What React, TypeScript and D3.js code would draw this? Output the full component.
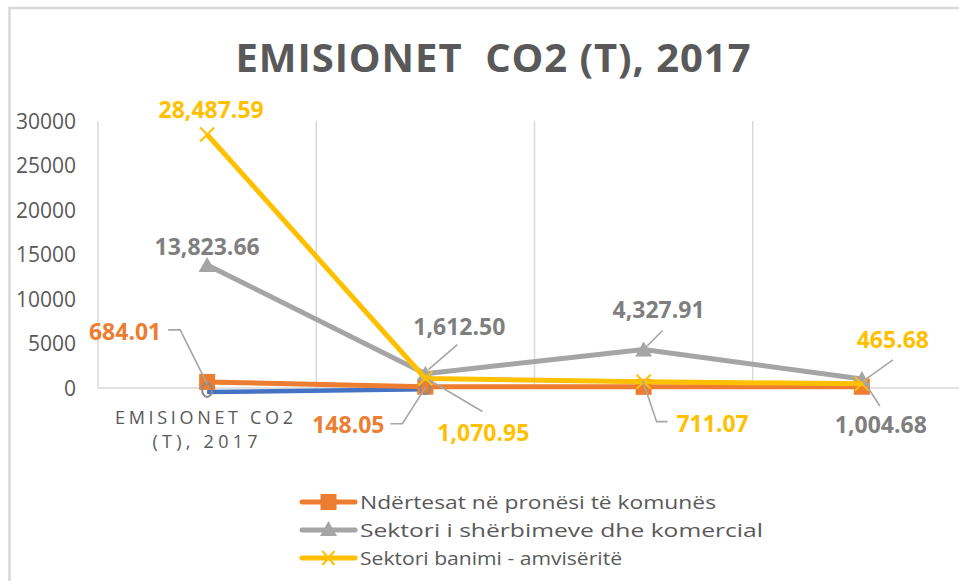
import React from "react";
import * as d3 from "d3";

const categories = ["EMISIONET CO2 (T), 2017", "c2", "c3", "c4"];
const seriesNames = [
  "Ndërtesat në pronësi të komunës",
  "Sektori i shërbimeve dhe komercial",
  "Sektori banimi - amvisëritë",
];
const blueValues = [-450, -150];
const orangeValues = [684.01, 148.05, 130, 140];
const grayValues = [13823.66, 1612.5, 4327.91, 1004.68];
const yellowValues = [28487.59, 1070.95, 711.07, 465.68];
const yTicks = [0, 5000, 10000, 15000, 20000, 25000, 30000];
const titleText = "EMISIONET  CO2 (T), 2017";

const ORANGE = "#ED7D31";
const GRAY = "#A5A5A5";
const YELLOW = "#FFC000";
const BLUE = "#4472C4";
const TEXT = "#595959";
const GRID = "#D9D9D9";
const LEADER = "#A6A6A6";

const fmt = d3.format(",.2f");

// label layout (offsets relative to the data point), not data
type Lay = { dx: number; dy: number; leader?: [number, number][] } | null;
const orangeLayout: Lay[] = [
  { dx: -82, dy: -42, leader: [[0, 2], [-27, -52], [-39, -52]] },
  { dx: -77, dy: 46, leader: [[0, 1], [-23, 37], [-35, 37]] },
  null,
  null,
];
const grayLayout: Lay[] = [
  { dx: 0, dy: -10 },
  { dx: 34, dy: -39, leader: [[3, -4], [32, -29]] },
  { dx: 15, dy: -31, leader: [[1, -1], [19, -19]] },
  { dx: 19, dy: 54, leader: [[1, 1], [18, 27]] },
];
const yellowLayout: Lay[] = [
  { dx: 4, dy: -16 },
  { dx: 58, dy: 63, leader: [[3, 1], [57, 33]] },
  { dx: 69, dy: 50, leader: [[-1, -1], [13, 40], [24, 40]] },
  { dx: 31, dy: -36, leader: [[3, -4], [31, -24]] },
];

export default function App() {
  const W = 959;
  const H = 581;
  const x = d3.scaleBand<string>().domain(categories).range([98, 971]).padding(0);
  const y = d3.scaleLinear().domain([0, 30000]).range([388, 121]);
  const cx = (i: number) => (x(categories[i]) as number) + x.bandwidth() / 2;

  const line = d3
    .line<number>()
    .x((_, i) => cx(i))
    .y((v) => y(v));

  const triangle = (px: number, py: number) =>
    `M${px},${py - 8} L${px + 8.5},${py + 7} L${px - 8.5},${py + 7} Z`;

  const renderLabels = (vals: number[], lay: Lay[], color: string, key: string) =>
    vals.map((v, i) => {
      const l = lay[i];
      if (!l) return null;
      const px = cx(i);
      const py = y(v);
      return (
        <g key={key + i}>
          {l.leader && (
            <polyline
              points={l.leader.map(([a, b]) => `${px + a},${py + b}`).join(" ")}
              fill="none"
              stroke={LEADER}
              strokeWidth={1.6}
            />
          )}
          <text
            x={px + l.dx}
            y={py + l.dy}
            textAnchor="middle"
            fontFamily="'Open Sans', sans-serif"
            fontWeight={700}
            fontSize={23}
            fill={color}
          >
            {fmt(v)}
          </text>
        </g>
      );
    });

  const legendRows = [
    { name: seriesNames[0], color: ORANGE, marker: "square", len: 356 },
    { name: seriesNames[1], color: GRAY, marker: "triangle", len: 403 },
    { name: seriesNames[2], color: YELLOW, marker: "x", len: 262 },
  ];

  return (
    <svg
      width={W}
      height={H}
      style={{ position: "absolute", left: 0, top: 0, background: "#fff" }}
    >
      <rect x={0} y={0} width={W} height={H} fill="#fff" />
      <rect x={9.5} y={8} width={1000} height={700} fill="none" stroke={GRID} strokeWidth={2.5} />

      <text
        x={493}
        y={72}
        textAnchor="middle"
        fontFamily="'Open Sans', sans-serif"
        fontWeight={700}
        fontSize={40}
        fill={TEXT}
        textLength={515}
        lengthAdjust="spacing"
        style={{ whiteSpace: "pre" }}
      >
        {titleText}
      </text>

      {/* vertical gridlines at category boundaries */}
      {categories.map((c) => (
        <line
          key={"g" + c}
          x1={x(c) as number}
          x2={x(c) as number}
          y1={y(30000)}
          y2={y(0)}
          stroke={GRID}
          strokeWidth={1.5}
        />
      ))}
      <line x1={98} x2={971} y1={y(0)} y2={y(0)} stroke={GRID} strokeWidth={1.5} />

      {yTicks.map((t) => (
        <text
          key={"t" + t}
          x={76}
          y={y(t) + 7.5}
          textAnchor="end"
          fontFamily="'Open Sans', sans-serif"
          fontSize={21}
          fill={TEXT}
        >
          {t}
        </text>
      ))}

      <text
        x={204}
        y={424}
        textAnchor="middle"
        fontFamily="'Open Sans', sans-serif"
        fontSize={18}
        fill={TEXT}
        textLength={178}
        lengthAdjust="spacing"
      >
        EMISIONET CO2
      </text>
      <text
        x={205}
        y={448}
        textAnchor="middle"
        fontFamily="'Open Sans', sans-serif"
        fontSize={18}
        fill={TEXT}
        textLength={105}
        lengthAdjust="spacing"
      >
        (T), 2017
      </text>

      {/* blue series */}
      <path d={line(blueValues) || ""} fill="none" stroke={BLUE} strokeWidth={4.5} />

      {/* orange series */}
      <path d={line(orangeValues) || ""} fill="none" stroke={ORANGE} strokeWidth={5} strokeLinejoin="round" />
      {orangeValues.map((v, i) => (
        <rect key={"o" + i} x={cx(i) - 8} y={y(v) - 8} width={16} height={16} fill={ORANGE} />
      ))}

      {blueValues.map((v, i) => (
        <ellipse key={"b" + i} cx={cx(i)} cy={y(v) - 2} rx={5} ry={7} fill="none" stroke="#8A8A8A" strokeWidth={2} />
      ))}

      {/* gray series */}
      <path d={line(grayValues) || ""} fill="none" stroke={GRAY} strokeWidth={5} strokeLinejoin="round" />
      {grayValues.map((v, i) => (
        <path key={"gr" + i} d={triangle(cx(i), y(v))} fill={GRAY} />
      ))}

      {/* yellow series */}
      <path d={line(yellowValues) || ""} fill="none" stroke={YELLOW} strokeWidth={5} strokeLinejoin="round" />
      {yellowValues.map((v, i) => {
        const px = cx(i);
        const py = y(v);
        return (
          <path
            key={"y" + i}
            d={`M${px - 7},${py - 7} L${px + 7},${py + 7} M${px + 7},${py - 7} L${px - 7},${py + 7}`}
            stroke={YELLOW}
            strokeWidth={2}
          />
        );
      })}

      {renderLabels(orangeValues, orangeLayout, ORANGE, "ol")}
      {renderLabels(grayValues, grayLayout, "#7F7F7F", "gl")}
      {renderLabels(yellowValues, yellowLayout, YELLOW, "yl")}

      {/* legend */}
      {legendRows.map((r, i) => {
        const ry = 502 + i * 28;
        const mx = 328.5;
        return (
          <g key={"lg" + i}>
            <line x1={302} x2={355} y1={ry} y2={ry} stroke={r.color} strokeWidth={5} strokeLinecap="round" />
            {r.marker === "square" && <rect x={mx - 8} y={ry - 8} width={16} height={16} fill={r.color} />}
            {r.marker === "triangle" && <path d={triangle(mx, ry - 1)} fill={r.color} />}
            {r.marker === "x" && (
              <path
                d={`M${mx - 6},${ry - 7} L${mx + 6},${ry + 7} M${mx + 6},${ry - 7} L${mx - 6},${ry + 7}`}
                stroke={r.color}
                strokeWidth={2}
              />
            )}
            <text
              x={360}
              y={ry + 7}
              fontFamily="'Open Sans', sans-serif"
              fontSize={19}
              fill={TEXT}
              textLength={r.len}
              lengthAdjust="spacingAndGlyphs"
            >
              {r.name}
            </text>
          </g>
        );
      })}
    </svg>
  );
}
